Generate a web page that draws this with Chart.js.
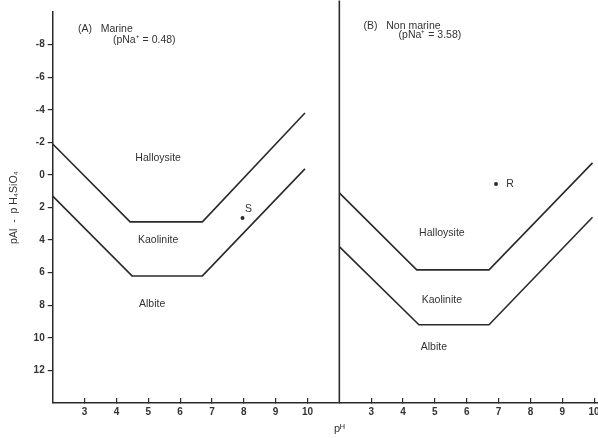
<!DOCTYPE html>
<html lang="en">
<head>
  <meta charset="UTF-8">
  <title>Halloysite / Kaolinite / Albite stability</title>
  <script src="https://cdn.jsdelivr.net/npm/chart.js"></script>
  <style>
    html, body { margin: 0; padding: 0; background: #fff; overflow: hidden; }
    /* a little wider than the window so the last "10" is cut off as in the print */
    #wrap { width: 610px; height: 438px; }
  </style>
</head>
<body>
  <div id="wrap"><canvas id="myChart"></canvas></div>
  <script>
    // pH values and pAl - pH4SiO4 values
    const marineUpperX = [2, 4.43, 6.70, 9.92];
    const marineUpperY = [-1.9, 2.88, 2.88, -3.8];
    const marineLowerX = [2, 4.49, 6.70, 9.92];
    const marineLowerY = [1.3, 6.2, 6.2, -0.37];
    const nonMarineUpperX = [2, 4.43, 6.70, 9.95];
    const nonMarineUpperY = [1.1, 5.83, 5.83, -0.74];
    const nonMarineLowerX = [2, 4.5, 6.70, 9.95];
    const nonMarineLowerY = [4.4, 9.2, 9.2, 2.6];
    const sampleS = { x: 7.96, y: 2.64 };
    const sampleR = { x: 6.92, y: 0.55 };

    const pHTicks = [3, 4, 5, 6, 7, 8, 9, 10];
    const yTicks = [-8, -6, -4, -2, 0, 2, 4, 6, 8, 10, 12];

    // text placed in data coordinates: [text, axis, x, y, align]
    const notes = [
      ['(A)   Marine', 'xA', 2.79, -8.96, 'left'],
      ['(pNa\u207A = 0.48)', 'xA', 3.89, -8.3, 'left'],
      ['Halloysite', 'xA', 5.31, -1.04, 'center'],
      ['Kaolinite', 'xA', 5.31, 3.99, 'center'],
      ['Albite', 'xA', 5.12, 7.91, 'center'],
      ['S', 'xA', 8.15, 2.1, 'center'],
      ['(B)   Non marine', 'xB', 2.76, -9.14, 'left'],
      ['(pNa\u207A = 3.58)', 'xB', 3.86, -8.6, 'left'],
      ['Halloysite', 'xB', 5.22, 3.56, 'center'],
      ['Kaolinite', 'xB', 5.22, 7.67, 'center'],
      ['Albite', 'xB', 4.97, 10.55, 'center'],
      ['R', 'xB', 7.36, 0.55, 'center']
    ];

    const ink = '#2b2b2b';
    const family = '"Liberation Sans", Arial, sans-serif';
    const pts = (xs, ys) => xs.map((x, i) => ({ x: x, y: ys[i] }));

    function lineSet(data, axis) {
      return {
        data: data, xAxisID: axis, yAxisID: 'y',
        borderColor: ink, borderWidth: 1.6, pointRadius: 0,
        showLine: true, fill: false, tension: 0
      };
    }

    const notesPlugin = {
      id: 'notes',
      afterDatasetsDraw(chart) {
        const c = chart.ctx;
        c.save();
        c.fillStyle = '#333';
        c.font = '10.5px ' + family;
        c.textBaseline = 'middle';
        notes.forEach(n => {
          c.textAlign = n[4];
          c.fillText(n[0], chart.scales[n[1]].getPixelForValue(n[2]), chart.scales.y.getPixelForValue(n[3]));
        });
        // pH axis title sits under the panel divider
        c.textAlign = 'center';
        c.font = '11px ' + family;
        c.fillText('p\u1D34', chart.scales.xB.getPixelForValue(2), chart.chartArea.bottom + 26);
        c.restore();
      }
    };

    const xAxis = (max, weight) => ({
      type: 'linear', position: 'bottom', stack: 'ph', stackWeight: weight,
      min: 2, max: max,
      afterBuildTicks: axis => { axis.ticks = pHTicks.map(v => ({ value: v })); },
      ticks: { color: '#333', padding: 8, font: { size: 10, weight: 'bold', family: family } },
      grid: { drawOnChartArea: false, drawTicks: true, tickLength: -5, color: ink, lineWidth: 1.2 },
      border: { display: true, color: ink, width: 1.5 }
    });

    const ctx = document.getElementById('myChart').getContext('2d');
    const myChart = new Chart(ctx, {
      type: 'scatter',
      data: {
        datasets: [
          lineSet(pts(marineUpperX, marineUpperY), 'xA'),
          lineSet(pts(marineLowerX, marineLowerY), 'xA'),
          lineSet(pts(nonMarineUpperX, nonMarineUpperY), 'xB'),
          lineSet(pts(nonMarineLowerX, nonMarineLowerY), 'xB'),
          Object.assign(lineSet([{ x: 2, y: -10.7 }, { x: 2, y: 14 }], 'xB'), { clip: false }),
          { data: [sampleS], xAxisID: 'xA', yAxisID: 'y', pointRadius: 2, backgroundColor: ink, borderWidth: 0 },
          { data: [sampleR], xAxisID: 'xB', yAxisID: 'y', pointRadius: 2, backgroundColor: ink, borderWidth: 0 }
        ]
      },
      options: {
        responsive: true,
        maintainAspectRatio: false,
        animation: false,
        layout: { padding: { left: 4, right: 1, top: 12, bottom: 12 } },
        plugins: { legend: { display: false }, tooltip: { enabled: false } },
        scales: {
          xA: xAxis(11, 9),
          xB: xAxis(10.15, 8.15),
          y: {
            type: 'linear', position: 'left', reverse: true,
            min: -10, max: 14,
            afterBuildTicks: axis => { axis.ticks = yTicks.map(v => ({ value: v })); },
            ticks: { color: '#333', padding: 3, font: { size: 10, weight: 'bold', family: family } },
            grid: { drawOnChartArea: false, drawTicks: true, tickLength: 5, color: ink, lineWidth: 1.2 },
            border: { display: true, color: ink, width: 1.5 },
            title: {
              display: true, text: 'pAl  -  p H\u2084SiO\u2084', color: '#333',
              padding: { top: 4, bottom: 10 },
              font: { size: 10.5, family: family }
            }
          }
        }
      },
      plugins: [notesPlugin]
    });
  </script>
</body>
</html>
